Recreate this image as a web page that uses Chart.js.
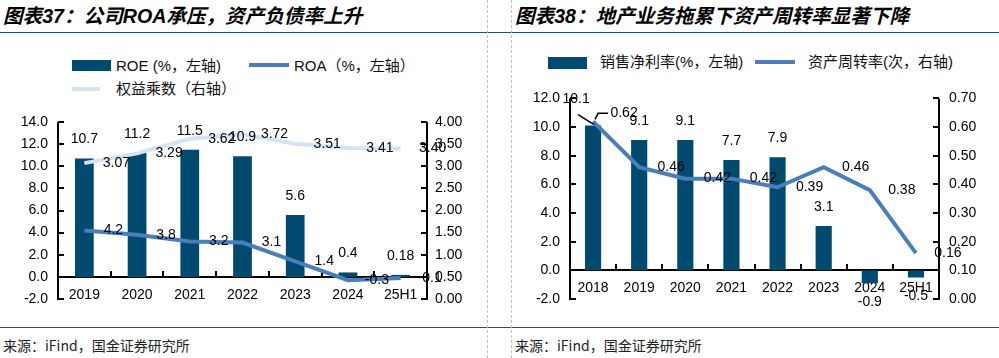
<!DOCTYPE html>
<html><head><meta charset="utf-8">
<script src="https://cdn.jsdelivr.net/npm/chart.js@4"></script>
<style>
html,body{margin:0;padding:0;background:#fff;}
body{width:999px;height:358px;position:relative;overflow:hidden;font-family:"Liberation Sans","Noto Sans CJK SC",sans-serif;color:#000;}
.abs{position:absolute;white-space:nowrap;}
.title{font-family:"Liberation Sans","Noto Sans CJK SC",sans-serif;font-weight:bold;font-style:italic;font-size:19.6px;line-height:24px;top:4px;}
.hline{left:0;width:999px;height:1px;background:#1F4E79;}
.vdash{top:0;height:358px;width:0;border-left:1px dashed #c0c0c0;}
.leg{font-size:15px;line-height:20px;font-family:"Liberation Sans","Noto Sans CJK SC",sans-serif;color:#111;}
.src{font-size:14px;line-height:18px;color:#222;font-family:"Noto Sans CJK SC","Liberation Sans",sans-serif;top:336px;}
canvas{position:absolute;}
</style>
</head><body>
<div class="abs title" style="left:3px;">图表37：公司ROA承压，资产负债率上升</div>
<div class="abs title" style="left:515px;">图表38：地产业务拖累下资产周转率显著下降</div>
<div class="abs hline" style="top:32px;"></div>
<div class="abs hline" style="top:327px;"></div>
<div class="abs vdash" style="left:487px;"></div>
<div class="abs vdash" style="left:511px;"></div>

<!-- left legend -->
<div class="abs" style="left:72px;top:60px;width:39px;height:11px;background:#00496F;"></div>
<div class="abs leg" style="left:116px;top:56px;">ROE (%，左轴)</div>
<div class="abs" style="left:249px;top:63px;width:40px;height:4px;background:#4A7EBB;"></div>
<div class="abs leg" style="left:294px;top:56px;">ROA（%，左轴）</div>
<div class="abs" style="left:72px;top:87px;width:28px;height:4px;background:#D5E3F2;"></div>
<div class="abs leg" style="left:116px;top:79px;">权益乘数（右轴）</div>

<!-- right legend -->
<div class="abs" style="left:548px;top:57px;width:39px;height:12px;background:#00496F;"></div>
<div class="abs leg" style="left:600px;top:52px;">销售净利率(%，左轴)</div>
<div class="abs" style="left:755px;top:60px;width:40px;height:4px;background:#4A7EBB;"></div>
<div class="abs leg" style="left:808px;top:52px;">资产周转率(次，右轴)</div>

<div class="abs src" style="left:3px;">来源：iFind，国金证券研究所</div>
<div class="abs src" style="left:515px;">来源：iFind，国金证券研究所</div>

<canvas id="cL" width="487" height="220" style="left:0px;top:100px;width:487px;height:220px;"></canvas>
<canvas id="cR" width="488" height="240" style="left:511px;top:80px;width:488px;height:240px;"></canvas>

<script>
// ---------- data ----------
const leftCategories = ['2019', '2020', '2021', '2022', '2023', '2024', '25H1'];
const roeValues = [10.7, 11.2, 11.5, 10.9, 5.6, 0.4, 0.18];
const roaValues = [4.2, 3.8, 3.2, 3.1, 1.4, -0.3, -0.1];
const equityMultiplier = [3.07, 3.29, 3.62, 3.72, 3.51, 3.41, 3.40];
const leftAxisTicks = [-2, 0, 2, 4, 6, 8, 10, 12, 14];
const leftRightAxisTicks = [0, 0.5, 1, 1.5, 2, 2.5, 3, 3.5, 4];

const rightCategories = ['2018', '2019', '2020', '2021', '2022', '2023', '2024', '25H1'];
const netMargin = [10.1, 9.1, 9.1, 7.7, 7.9, 3.1, -0.9, -0.5];
const assetTurnover = [0.62, 0.46, 0.42, 0.42, 0.39, 0.46, 0.38, 0.16];
const rightAxisTicks = [-2, 0, 2, 4, 6, 8, 10, 12];
const rightRightAxisTicks = [0, 0.1, 0.2, 0.3, 0.4, 0.5, 0.6, 0.7];

// ---------- styles ----------
const BAR = '#00496F', ROA_C = '#4A7EBB', EQ_C = '#D5E3F2';
const FONT = '"Liberation Sans", Arial, sans-serif';

const axesPlugin = {
  id: 'excelAxes',
  beforeDatasetsDraw(chart) {
    const {ctx, chartArea: a, scales} = chart;
    const yL = scales.y, yR = scales.y1, x = scales.x;
    ctx.save();
    ctx.strokeStyle = '#000';
    ctx.lineWidth = 2;
    const seg = (x1, y1, x2, y2) => { ctx.beginPath(); ctx.moveTo(x1, y1); ctx.lineTo(x2, y2); ctx.stroke(); };
    seg(a.left, a.top, a.left, a.bottom + 1);
    seg(a.right, a.top, a.right, a.bottom + 1);
    yL.ticks.forEach(t => { const p = Math.round(yL.getPixelForValue(t.value)); seg(a.left, p, a.left + 6, p); });
    yR.ticks.forEach(t => { const p = Math.round(yR.getPixelForValue(t.value)); seg(a.right - 6, p, a.right, p); });
    const z = Math.round(yL.getPixelForValue(0));
    seg(a.left, z, a.right, z);
    const n = chart.data.labels.length;
    for (let i = 1; i < n; i++) {
      const px = Math.round((x.getPixelForValue(i - 1) + x.getPixelForValue(i)) / 2);
      seg(px, z, px, z - 6);
    }
    ctx.restore();
  }
};

const labelPlugin = {
  id: 'valueLabels',
  afterDatasetsDraw(chart) {
    const ctx = chart.ctx;
    ctx.save();
    ctx.font = '14px ' + FONT;
    ctx.fillStyle = '#000';
    ctx.textAlign = 'center';
    ctx.textBaseline = 'middle';
    chart.data.datasets.forEach((ds, di) => {
      const st = ds.labelStyle;
      if (!st) return;
      const meta = chart.getDatasetMeta(di);
      meta.data.forEach((el, i) => {
        const v = ds.data[i];
        const ov = (st.overrides && st.overrides[i]) || {};
        let dx = ov.dx !== undefined ? ov.dx : st.dx;
        let dy;
        if (ds.type === 'bar') {
          dy = ov.dy !== undefined ? ov.dy : (v >= 0 ? -st.gap : st.gap);
        } else {
          dy = ov.dy !== undefined ? ov.dy : st.dy;
        }
        const lx = el.x + dx, ly = el.y + dy;
        if (ov.leader) {
          ctx.save();
          ctx.strokeStyle = '#000';
          ctx.lineWidth = 1.5;
          ctx.beginPath();
          ov.leader.forEach((p, k) => {
            const px = el.x + p[0], py = el.y + p[1];
            if (k === 0) ctx.moveTo(px, py); else ctx.lineTo(px, py);
          });
          ctx.stroke();
          ctx.restore();
        }
        ctx.fillText(st.fmt(v), lx, ly);
      });
    });
    ctx.restore();
  }
};

function yScale(pos, ticksArr, dec, width, pad) {
  return {
    position: pos,
    min: ticksArr[0],
    max: ticksArr[ticksArr.length - 1],
    afterBuildTicks: s => { s.ticks = ticksArr.map(v => ({value: v})); },
    ticks: {callback: v => Number(v).toFixed(dec), padding: pad, color: '#000', font: {size: 14, family: FONT}},
    grid: {display: false, drawTicks: false},
    border: {display: false},
    afterFit: s => { s.width = width; }
  };
}

function xScale(pad) {
  return {
    position: {y: 0},
    grid: {display: false, drawTicks: false},
    border: {display: false},
    ticks: {padding: pad, color: '#000', font: {size: 14, family: FONT}, maxRotation: 0, autoSkip: false}
  };
}

const common = {
  responsive: false,
  animation: false,
  devicePixelRatio: 1,
  plugins: {legend: {display: false}, tooltip: {enabled: false}}
};

new Chart(document.getElementById('cL'), {
  data: {
    labels: leftCategories,
    datasets: [
      {type: 'line', label: 'ROA', data: roaValues, yAxisID: 'y', borderColor: ROA_C, borderWidth: 4,
       pointRadius: 0, tension: 0, order: 1, labelStyle: {dx: 29, dy: 0, fmt: v => String(v)}},
      {type: 'line', label: '权益乘数', data: equityMultiplier, yAxisID: 'y1', borderColor: EQ_C, borderWidth: 4,
       pointRadius: 0, tension: 0, order: 2, labelStyle: {dx: 32, dy: 0, fmt: v => v.toFixed(2)}},
      {type: 'bar', label: 'ROE', data: roeValues, yAxisID: 'y', backgroundColor: BAR,
       barPercentage: 0.355, categoryPercentage: 1, order: 3, labelStyle: {dx: 0, gap: 19, fmt: v => String(v)}}
    ]
  },
  options: Object.assign({}, common, {
    layout: {padding: {top: 22, bottom: 21, left: 0, right: 0}},
    scales: {x: xScale(10), y: yScale('left', leftAxisTicks, 1, 58, 10), y1: yScale('right', leftRightAxisTicks, 2, 60, 8)}
  }),
  plugins: [axesPlugin, labelPlugin]
});

new Chart(document.getElementById('cR'), {
  data: {
    labels: rightCategories,
    datasets: [
      {type: 'line', label: '资产周转率', data: assetTurnover, yAxisID: 'y1', borderColor: ROA_C, borderWidth: 4,
       pointRadius: 0, tension: 0, order: 1,
       labelStyle: {dx: 32, dy: 0, fmt: v => v.toFixed(2),
         overrides: {0: {dx: 31, dy: -8, leader: [[15, -8], [5, -8], [2, -2]]}}}},
      {type: 'bar', label: '销售净利率', data: netMargin, yAxisID: 'y', backgroundColor: BAR,
       barPercentage: 0.35, categoryPercentage: 1, order: 2,
       labelStyle: {dx: 0, gap: 19, fmt: v => String(v),
         overrides: {0: {dx: -17, dy: -26, leader: [[-15, -11], [1, -1]]}}}}
    ]
  },
  options: Object.assign({}, common, {
    layout: {padding: {top: 15, bottom: 21, left: 0, right: 0}},
    scales: {x: xScale(9), y: yScale('left', rightAxisTicks, 1, 59, 10), y1: yScale('right', rightRightAxisTicks, 2, 60, 10)}
  }),
  plugins: [axesPlugin, labelPlugin]
});
</script>
</body></html>
